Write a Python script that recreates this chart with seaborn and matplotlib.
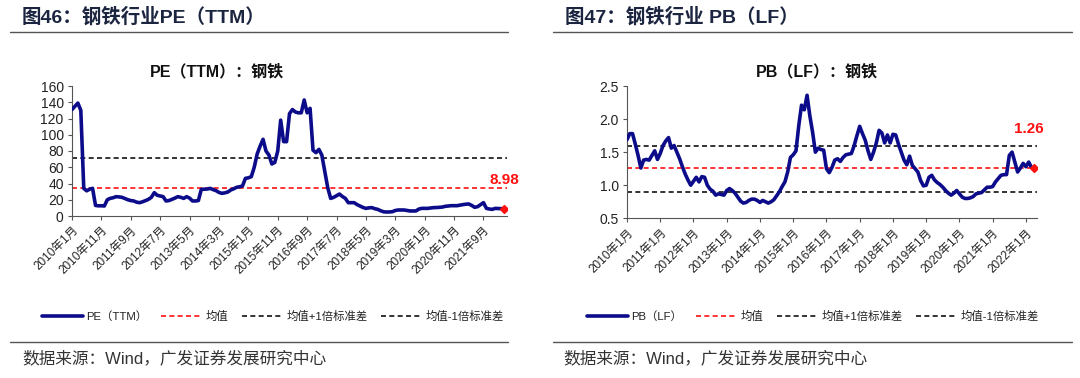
import numpy as np
import pandas as pd
import matplotlib
matplotlib.use('Agg')
import matplotlib.pyplot as plt
from matplotlib.lines import Line2D
import seaborn as sns

sns.set_style('ticks')
plt.rcParams['font.family'] = ['Liberation Sans', 'Noto Sans CJK SC', 'DejaVu Sans']
plt.rcParams['axes.unicode_minus'] = False

# monthly data, 2010-01 .. 2022-04
months = pd.date_range('2010-01-01', periods=148, freq='MS')

pe_values = [
    131, 135, 139, 130, 34, 31, 33, 34, 13, 12.5, 12.6, 12.3,
    20, 21.7, 22.5, 23.8, 23.5, 23, 21.5, 20, 19, 18.5, 17, 16.4,
    17.5, 18.9, 20.5, 23, 28.7, 25.5, 24.6, 23.8, 18.5, 19, 20.5, 22,
    23.8, 23, 21.7, 23.8, 22, 18.5, 18.5, 19, 32.8, 33, 33.2, 34,
    32.5, 31.2, 29, 27.9, 28.5, 29.5, 32, 33.5, 35.3, 36, 36.9, 46.3,
    47, 48.4, 60, 76.3, 86, 94.4, 80, 75, 64, 66, 80, 118,
    91.5, 91.5, 126, 131, 128, 127, 127, 142.8, 127, 132.5, 81, 78,
    82, 75, 55, 35, 21.7, 22.9, 25, 27, 24, 21.7, 16.4, 16.4,
    16.4, 14, 12.3, 10.5, 9.4, 10, 10.3, 9, 8.2, 6.5, 5.2, 4.9,
    5, 5.3, 6.8, 7.4, 7.4, 7.4, 6.8, 6.2, 6.2, 6.2, 8.5, 9.4,
    9.4, 9.4, 9.8, 10.3, 10.4, 10.7, 11, 11.9, 12.3, 12.7, 12.7, 12.7,
    13.4, 14, 14.5, 14.8, 13, 10.7, 11.5, 14, 16.4, 9.4, 8.6, 8.2,
    9.4, 9.2, 9.0, 8.98,
]

pb_values = [
    1.69, 1.78, 1.78, 1.62, 1.45, 1.26, 1.38, 1.39, 1.38, 1.45, 1.52, 1.39,
    1.48, 1.60, 1.67, 1.72, 1.56, 1.60, 1.50, 1.40, 1.28, 1.17, 1.08, 1.00,
    1.06, 1.12, 1.05, 1.13, 1.12, 1.00, 0.94, 0.91, 0.85, 0.87, 0.86, 0.85,
    0.92, 0.95, 0.92, 0.88, 0.82, 0.76, 0.73, 0.74, 0.77, 0.79, 0.79, 0.77,
    0.74, 0.77, 0.75, 0.73, 0.75, 0.78, 0.84, 0.90, 0.98, 1.05, 1.20, 1.42,
    1.46, 1.52, 1.90, 2.21, 2.14, 2.36, 2.05, 1.80, 1.50, 1.56, 1.54, 1.53,
    1.25, 1.19, 1.27, 1.38, 1.40, 1.36, 1.42, 1.46, 1.47, 1.48, 1.60, 1.75,
    1.89, 1.78, 1.68, 1.52, 1.39, 1.50, 1.64, 1.83, 1.79, 1.64, 1.76, 1.64,
    1.77, 1.76, 1.62, 1.50, 1.38, 1.31, 1.44, 1.30, 1.25, 1.20, 1.07, 0.99,
    1.00, 1.12, 1.15, 1.08, 1.04, 1.01, 0.97, 0.92, 0.88, 0.85, 0.88, 0.92,
    0.87, 0.82, 0.80, 0.80, 0.81, 0.83, 0.87, 0.88, 0.89, 0.93, 0.97, 0.97,
    0.98, 1.05, 1.10, 1.15, 1.16, 1.16, 1.45, 1.50, 1.35, 1.20, 1.26, 1.33,
    1.28, 1.35, 1.27, 1.26,
]

pe_mean, pe_up, pe_down = 34.5, 71.5, -2.5
pb_mean, pb_up, pb_down = 1.255, 1.597, 0.905

pe_tick_idx = list(range(0, 148, 10))
pb_tick_idx = list(range(0, 148, 12))

NAVY = '#0C0C8A'
TXT = '#222222'


def draw(ax, values, name, mean, up, down, ylim, yticks, yfmt, tick_idx, label_off):
    n = len(values)
    df = pd.DataFrame({'idx': np.arange(n), 'v': values})
    sns.lineplot(data=df, x='idx', y='v', ax=ax, color=NAVY, lw=2.6, label=name, zorder=3)
    ax.axhline(mean, color='#FF1010', ls=(0, (3, 2)), lw=1.2, label='均值', zorder=2)
    ax.axhline(up, color='#111111', ls=(0, (3, 2)), lw=1.2, label='均值+1倍标准差', zorder=2)
    ax.axhline(down, color='#111111', ls=(0, (3, 2)), lw=1.2, label='均值-1倍标准差', zorder=2)
    ax.plot(n - 1, values[-1], marker='D', color='#FF1010', ms=4.5, zorder=4)
    ax.annotate(f'{values[-1]:.2f}', xy=(n - 1, values[-1]), xytext=label_off,
                textcoords='offset points', ha='center', va='center',
                color='#FF1010', fontsize=11, fontweight='bold')

    ax.set_xlim(0, 148)
    ax.set_ylim(*ylim)
    ax.set_yticks(yticks)
    ax.set_yticklabels([yfmt.format(t) for t in yticks], fontsize=10, color=TXT)
    ax.set_xticks(tick_idx)
    ax.set_xticklabels([f'{months[i].year}年{months[i].month}月' for i in tick_idx],
                       rotation=45, ha='right', rotation_mode='anchor', fontsize=8.5, color=TXT)
    ax.tick_params(axis='both', direction='out', length=3, width=0.8, color='#555555', pad=3)
    ax.set_xlabel('')
    ax.set_ylabel('')
    for s in ['top', 'right']:
        ax.spines[s].set_visible(False)
    for s in ['left', 'bottom']:
        ax.spines[s].set_color('#555555')
        ax.spines[s].set_linewidth(0.8)


fig = plt.figure(figsize=(10.8, 3.78), dpi=100)
ax1 = fig.add_axes([72 / 1080, 1 - 216 / 378, 435 / 1080, 130 / 378])
ax2 = fig.add_axes([627 / 1080, 1 - 218.3 / 378, 410 / 1080, 132.3 / 378])

draw(ax1, pe_values, 'PE（TTM）', pe_mean, pe_up, pe_down, (0, 160),
     list(range(0, 161, 20)), '{:d}', pe_tick_idx, (0, 21))
draw(ax2, pb_values, 'PB（LF）', pb_mean, pb_up, pb_down, (0.5, 2.5),
     [0.5, 1.0, 1.5, 2.0, 2.5], '{:.1f}', pb_tick_idx, (-4, 28))

for ax, cx in [(ax1, 273), (ax2, 813)]:
    ax.legend(loc='center', bbox_to_anchor=(cx / 1080, 1 - 316 / 378),
              bbox_transform=fig.transFigure, ncol=4, frameon=False,
              fontsize=8.2, handlelength=3.6, handletextpad=0.3, columnspacing=1.2,
              labelcolor=TXT)

# chart titles
fig.text(217 / 1080, 1 - 72 / 378, 'PE（TTM）：钢铁', ha='center', va='center',
         fontsize=11.5, fontweight='bold', color='#111111')
fig.text(817 / 1080, 1 - 72 / 378, 'PB（LF）：钢铁', ha='center', va='center',
         fontsize=11.5, fontweight='bold', color='#111111')

# headers
HEAD = '#1B2540'
fig.text(22 / 1080, 1 - 17 / 378, '图46：钢铁行业PE（TTM）', ha='left', va='center',
         fontsize=14, fontweight='bold', color=HEAD)
fig.text(565 / 1080, 1 - 17 / 378, '图47：钢铁行业 PB（LF）', ha='left', va='center',
         fontsize=14, fontweight='bold', color=HEAD)

for x0, x1 in [(10, 508), (553, 1072)]:
    fig.add_artist(Line2D([x0 / 1080, x1 / 1080], [1 - 32 / 378] * 2,
                          transform=fig.transFigure, color='#555555', lw=1))
    fig.add_artist(Line2D([x0 / 1080, x1 / 1080], [1 - 342 / 378] * 2,
                          transform=fig.transFigure, color='#555555', lw=1))

for x0 in [22, 563]:
    fig.text(x0 / 1080, 1 - 358 / 378, '数据来源：Wind，广发证券发展研究中心', ha='left',
             va='center', fontsize=12, color='#333333')

fig.savefig('out.png', dpi=100)
